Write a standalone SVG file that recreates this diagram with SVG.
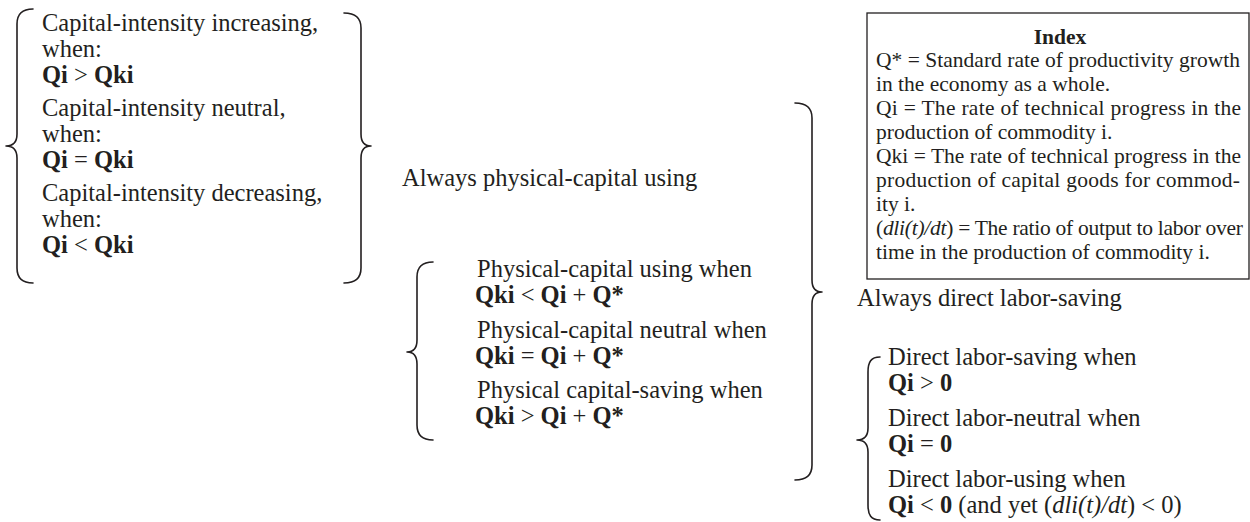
<svg xmlns="http://www.w3.org/2000/svg" width="1250" height="522" viewBox="0 0 1250 522">
<style>
text{font-family:"Liberation Serif","Times New Roman",serif;fill:#231f20}
.m{font-size:24.5px}
.ix{font-size:21.5px}
.b{font-weight:bold}
.i{font-style:italic}
.br{fill:none;stroke:#231f20;stroke-width:1.6;stroke-linecap:round;stroke-linejoin:round}
.box{fill:#fff;stroke:#231f20;stroke-width:1.3}
</style>
<rect width="1250" height="522" fill="#fff"/>
<g id="connectors">
<path class="br" d="M33,9 C22,9 17,14 17,24 L17,134 C17,142 13,146 6,146 C13,146 17,150 17,158 L17,268 C17,278 22,283 33,283"/>
<path class="br" d="M344,13 C355,13 361,18 361,28 L361,134 C361,142 365,146 371,146 C365,146 361,150 361,158 L361,268 C361,278 355,283 344,283"/>
<path class="br" d="M795,103 C806,103 812,108 812,118 L812,280 C812,288 816,292 822,292 C816,292 812,296 812,304 L812,465 C812,475 806,480 795,480"/>
<path class="br" d="M433,262 C422,262 417,267 417,277 L417,340 C417,348 413,352 407,352 C413,352 417,356 417,364 L417,425 C417,435 422,440 433,440"/>
<path class="br" d="M880,357 C871,357 868,362 868,372 L868,428 C868,436 864,440 857,440 C864,440 868,444 868,452 L868,505 C868,515 871,520 880,520"/>
</g>
<g id="capital-intensity">
<text class="m" x="42" y="31">Capital-intensity increasing,</text>
<text class="m" x="42" y="57">when:</text>
<text class="m" x="42" y="83"><tspan class="b">Qi</tspan> &gt; <tspan class="b">Qki</tspan></text>
<text class="m" x="42" y="116">Capital-intensity neutral,</text>
<text class="m" x="42" y="142">when:</text>
<text class="m" x="42" y="168"><tspan class="b">Qi</tspan> = <tspan class="b">Qki</tspan></text>
<text class="m" x="42" y="201">Capital-intensity decreasing,</text>
<text class="m" x="42" y="227">when:</text>
<text class="m" x="42" y="253"><tspan class="b">Qi</tspan> &lt; <tspan class="b">Qki</tspan></text>
</g>
<g id="always-physical">
<text class="m" x="402" y="186">Always physical-capital using</text>
</g>
<g id="physical-capital">
<text class="m" x="477" y="277">Physical-capital using when</text>
<text class="m" x="475" y="303"><tspan class="b">Qki</tspan> &lt; <tspan class="b">Qi</tspan> + <tspan class="b">Q*</tspan></text>
<text class="m" x="477" y="338">Physical-capital neutral when</text>
<text class="m" x="475" y="364"><tspan class="b">Qki</tspan> = <tspan class="b">Qi</tspan> + <tspan class="b">Q*</tspan></text>
<text class="m" x="477" y="398">Physical capital-saving when</text>
<text class="m" x="475" y="424"><tspan class="b">Qki</tspan> &gt; <tspan class="b">Qi</tspan> + <tspan class="b">Q*</tspan></text>
</g>
<g id="index">
<rect class="box" x="867" y="13" width="382" height="266"/>
<text class="ix b" x="1060" y="44" text-anchor="middle">Index</text>
<text class="ix" x="876" y="67" textLength="364" lengthAdjust="spacing">Q* = Standard rate of productivity growth</text>
<text class="ix" x="876" y="91">in the economy as a whole.</text>
<text class="ix" x="876" y="115" textLength="365" lengthAdjust="spacing">Qi = The rate of technical progress in the</text>
<text class="ix" x="876" y="139">production of commodity i.</text>
<text class="ix" x="876" y="163" textLength="365" lengthAdjust="spacing">Qki = The rate of technical progress in the</text>
<text class="ix" x="876" y="187" textLength="364" lengthAdjust="spacing">production of capital goods for commod-</text>
<text class="ix" x="876" y="211">ity i.</text>
<text class="ix" x="876" y="235" textLength="367" lengthAdjust="spacing">(<tspan class="i">dli(t)/dt</tspan>) = The ratio of output to labor over</text>
<text class="ix" x="876" y="259">time in the production of commodity i.</text>
</g>
<g id="always-direct">
<text class="m" x="857" y="306">Always direct labor-saving</text>
</g>
<g id="direct-labor">
<text class="m" x="888" y="365">Direct labor-saving when</text>
<text class="m" x="888" y="391"><tspan class="b">Qi</tspan> &gt; <tspan class="b">0</tspan></text>
<text class="m" x="888" y="426">Direct labor-neutral when</text>
<text class="m" x="888" y="452"><tspan class="b">Qi</tspan> = <tspan class="b">0</tspan></text>
<text class="m" x="888" y="487">Direct labor-using when</text>
<text class="m" x="888" y="513"><tspan class="b">Qi</tspan> &lt; <tspan class="b">0</tspan> (and yet (<tspan class="i">dli(t)/dt</tspan>) &lt; 0)</text>
</g>
</svg>
